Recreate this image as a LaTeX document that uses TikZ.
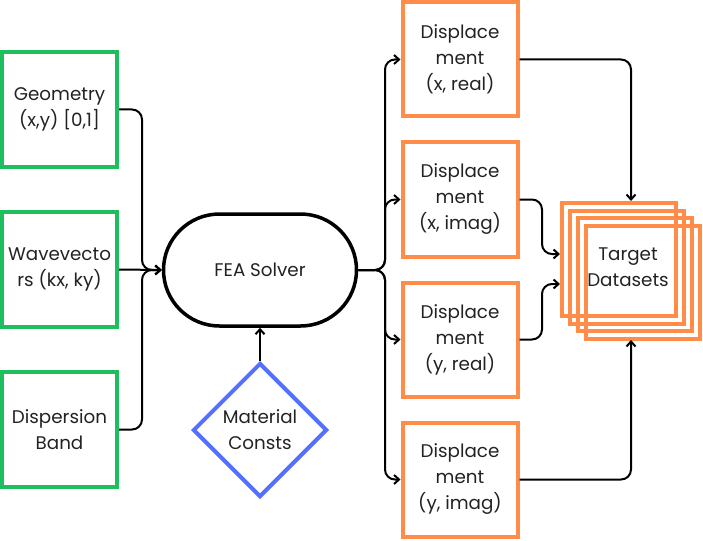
\documentclass[tikz,border=0pt]{standalone}
\usepackage{fontspec}
\setmainfont{Poppins}
\usetikzlibrary{arrows.meta,shapes.geometric,shapes.misc}
\definecolor{cgreen}{RGB}{30,190,95}
\definecolor{corange}{RGB}{255,140,72}
\definecolor{cblue}{RGB}{84,112,255}
\definecolor{ctext}{RGB}{34,34,34}
\begin{document}
\begin{tikzpicture}[x=1pt,y=-1pt,
  every node/.style={text=ctext,font=\fontsize{18.3}{26}\selectfont,align=center},
  gbox/.style={draw=cgreen,line width=4pt,minimum width=115pt,minimum height=115pt,inner sep=0pt},
  obox/.style={draw=corange,line width=4pt,minimum width=115pt,minimum height=114pt,inner sep=0pt},
  tbox/.style={draw=corange,line width=4pt,minimum width=114pt,minimum height=113pt,inner sep=0pt},
  solver/.style={draw=black,line width=3.5pt,rounded rectangle,minimum width=193pt,minimum height=112pt,inner sep=0pt},
  matl/.style={draw=cblue,line width=4pt,diamond,minimum width=134pt,minimum height=134pt,inner sep=0pt},
  conn/.style={draw=black,line width=2pt,rounded corners=10pt,-{Straight Barb[length=5pt,width=9pt]}},
  plain/.style={draw=black,line width=2pt,rounded corners=10pt}]
\useasboundingbox (0,0) rectangle (703,540);

\node[gbox] (geo) at (59.5,109.5) {Geometry\\(x,y) [0,1]};
\node[gbox] (wav) at (59.5,269.5) {Wavevecto\\rs (kx, ky)};
\node[gbox] (dis) at (59.5,429.5) {Dispersion\\Band};

\node[solver] (fea) at (260,270) {FEA Solver};
\node[matl] (mat) at (260,430) {Material\\Consts};

\node[obox] (d1) at (460,59.5) {Displace\\ment\\(x, real)};
\node[obox] (d2) at (460,199.5) {Displace\\ment\\(x, imag)};
\node[obox] (d3) at (460,339.5) {Displace\\ment\\(y, real)};
\node[obox] (d4) at (460,479.5) {Displace\\ment\\(y, imag)};

\node[tbox] (t1) at (619,259.5) {};
\node[tbox] (t2) at (627,267) {};
\node[tbox] (t3) at (635,274.5) {};
\node[tbox] (t4) at (643,282) {};
\node[inner sep=0pt] (tl) at (628,267) {Target\\Datasets};

\coordinate (jl) at (142,270);
\coordinate (jr) at (385,270);
\coordinate (ttop) at (631,201);
\coordinate (tbot) at (631,340);
\coordinate (a2) at (542,254);
\coordinate (a3) at (542,284);
\coordinate (tin2) at (560,254);
\coordinate (tin3) at (560,284);

\draw[conn] (geo.east) -| (jl) -- (fea.west);
\draw[conn] (wav.east) -- (fea.west);
\draw[conn] (dis.east) -| (jl) -- (fea.west);
\draw[conn] (mat.north) -- (fea.south);

\draw[conn] (fea.east) -- (jr) |- (d1.west);
\draw[conn] (fea.east) -- (jr) |- (d2.west);
\draw[conn] (fea.east) -- (jr) |- (d3.west);
\draw[conn] (fea.east) -- (jr) |- (d4.west);

\draw[conn] (d1.east) -| (ttop);
\draw[conn] (d2.east) -| (a2) -- (tin2);
\draw[conn] (d3.east) -| (a3) -- (tin3);
\draw[conn] (d4.east) -| (tbot);
\end{tikzpicture}
\end{document}
